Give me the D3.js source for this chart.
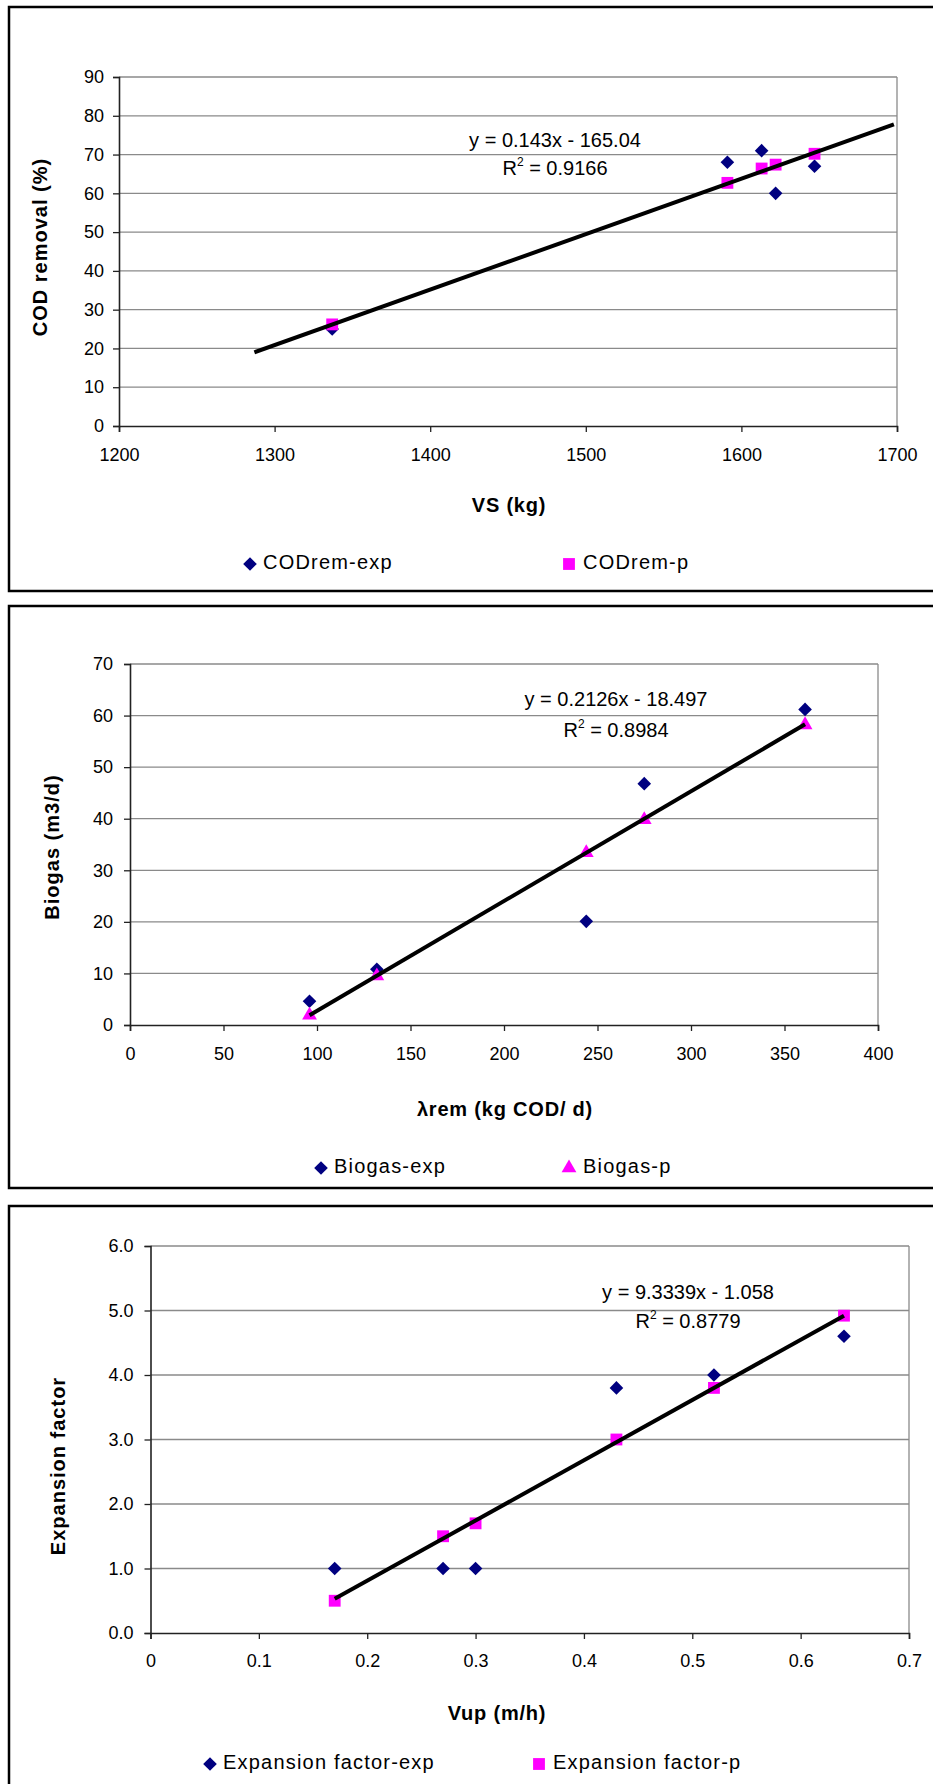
<!DOCTYPE html>
<html>
<head>
<meta charset="utf-8">
<script src="https://cdn.jsdelivr.net/npm/d3@7"></script>
<style>
    body { margin: 0; background: #fff; }
    svg text { font-family: "Liberation Sans", Arial, sans-serif; fill: #000; }
</style>
</head>
<body>
<svg id="d3-canvas" width="933" height="1784"></svg>
<script>
// Chart 1: COD removal vs VS
const codVS = [1337, 1591, 1613, 1622, 1647];
const codExp = [25, 68, 71, 60, 67];
const codP = [26.2, 62.7, 66.4, 67.4, 70.2];
const codTrendX = [1287, 1698];
const codTrendY = [19.0, 77.8];
const codXTicks = [1200, 1300, 1400, 1500, 1600, 1700];
const codYTicks = [0, 10, 20, 30, 40, 50, 60, 70, 80, 90];

// Chart 2: biogas vs lambda rem
const lambdaRem = [96, 132, 244, 275, 361];
const biogasExp = [4.6, 10.8, 20.1, 46.8, 61.2];
const biogasP = [1.9, 9.5, 33.4, 39.8, 58.2];
const biogasTrendX = [96, 361];
const biogasTrendY = [1.9, 58.3];
const biogasXTicks = [0, 50, 100, 150, 200, 250, 300, 350, 400];
const biogasYTicks = [0, 10, 20, 30, 40, 50, 60, 70];

// Chart 3: expansion factor vs Vup
const vup = [0.17, 0.27, 0.30, 0.43, 0.52, 0.64];
const expExp = [1.0, 1.0, 1.0, 3.8, 4.0, 4.6];
const expP = [0.5, 1.5, 1.7, 3.0, 3.8, 4.92];
const expTrendX = [0.17, 0.64];
const expTrendY = [0.53, 4.92];
const expXTicks = [0, 0.1, 0.2, 0.3, 0.4, 0.5, 0.6, 0.7];
const expXLabels = ["0", "0.1", "0.2", "0.3", "0.4", "0.5", "0.6", "0.7"];
const expYTicks = [0, 1, 2, 3, 4, 5, 6];
const expYLabels = ["0.0", "1.0", "2.0", "3.0", "4.0", "5.0", "6.0"];

const NAVY = "#000080";
const MAGENTA = "#ff00ff";

const svg = d3.select("#d3-canvas");
svg.append("rect").attr("width", 933).attr("height", 1784).attr("fill", "#fff");

const markerPath = (shape) => {
    if (shape == "diamond") return d3.symbol(d3.symbolDiamond2, 118)();
    if (shape == "triangle") return d3.symbol(d3.symbolTriangle, 95)();
    return d3.symbol(d3.symbolSquare, 140)();
}

const drawChart = (c) => {
    // outer frame (runs off the right edge in the source)
    svg.append("rect")
        .attr("x", 9)
        .attr("y", c.frame[0])
        .attr("width", 990)
        .attr("height", c.frame[1] - c.frame[0])
        .attr("fill", "none")
        .attr("stroke", "#000")
        .attr("stroke-width", 2.5);

    const x = d3.scaleLinear().domain(c.xDomain).range([c.left, c.right]);
    const y = d3.scaleLinear().domain(c.yDomain).range([c.bottom, c.top]);
    const g = svg.append("g");

    // gridlines
    g.selectAll(".grid")
        .data(c.yTicks.slice(1))
        .join("line")
        .attr("x1", c.left)
        .attr("x2", c.right)
        .attr("y1", d => y(d))
        .attr("y2", d => y(d))
        .attr("stroke", "#8a8a8a")
        .attr("stroke-width", 1.3);
    g.append("line")
        .attr("x1", c.right).attr("x2", c.right)
        .attr("y1", c.top).attr("y2", c.bottom)
        .attr("stroke", "#8a8a8a")
        .attr("stroke-width", 1.3);

    const xAxis = g.append("g")
        .attr("transform", `translate(0,${c.bottom})`)
        .call(d3.axisBottom(x).tickValues(c.xTicks).tickSize(6)
            .tickFormat((d, i) => c.xLabels ? c.xLabels[i] : d));
    xAxis.selectAll("text")
        .attr("y", c.xLabelOffset)
        .attr("dy", "0.35em")
        .attr("font-size", 18);

    const yAxis = g.append("g")
        .attr("transform", `translate(${c.left},0)`)
        .call(d3.axisLeft(y).tickValues(c.yTicks).tickSize(6).tickPadding(c.yPad)
            .tickFormat((d, i) => c.yLabels ? c.yLabels[i] : d));
    yAxis.selectAll("text").attr("font-size", 18);

    [xAxis, yAxis].forEach(a => {
        a.attr("font-family", null);
        a.select(".domain").attr("stroke", "#222").attr("stroke-width", 1.6);
        a.selectAll(".tick line").attr("stroke", "#222").attr("stroke-width", 1.3);
    });

    // series markers
    g.selectAll(".exp")
        .data(c.xs.map((d, i) => [d, c.exp[i]]))
        .join("path")
        .attr("d", markerPath("diamond"))
        .attr("transform", d => `translate(${x(d[0])},${y(d[1])})`)
        .attr("fill", NAVY);
    g.selectAll(".pred")
        .data(c.xs.map((d, i) => [d, c.pred[i]]))
        .join("path")
        .attr("d", markerPath(c.predShape))
        .attr("transform", d => `translate(${x(d[0])},${y(d[1])})`)
        .attr("fill", MAGENTA);

    // trendline
    g.append("path")
        .datum(c.trendX.map((d, i) => [d, c.trendY[i]]))
        .attr("d", d3.line().x(d => x(d[0])).y(d => y(d[1])))
        .attr("stroke", "#000")
        .attr("stroke-width", 4)
        .attr("fill", "none");

    // equation
    g.append("text")
        .attr("x", c.eq[0])
        .attr("y", c.eq[1])
        .attr("text-anchor", "middle")
        .attr("dominant-baseline", "middle")
        .attr("font-size", 20)
        .text(c.eqText);
    const r2 = g.append("text")
        .attr("x", c.eq[0])
        .attr("y", c.eq[2])
        .attr("text-anchor", "middle")
        .attr("dominant-baseline", "middle")
        .attr("font-size", 20);
    r2.append("tspan").text("R");
    r2.append("tspan").attr("font-size", 12).attr("dy", -7).text("2");
    r2.append("tspan").attr("dy", 7).text(" = " + c.r2);

    // axis titles
    g.append("text")
        .attr("x", c.xTitle[0])
        .attr("y", c.xTitle[1])
        .attr("text-anchor", "middle")
        .attr("dominant-baseline", "middle")
        .attr("font-size", 20)
        .attr("font-weight", "bold")
        .attr("letter-spacing", 0.8)
        .text(c.xTitleText);
    g.append("text")
        .attr("transform", `translate(${c.yTitle[0]},${c.yTitle[1]}) rotate(-90)`)
        .attr("text-anchor", "middle")
        .attr("dominant-baseline", "middle")
        .attr("font-size", 20)
        .attr("font-weight", "bold")
        .attr("letter-spacing", 1)
        .text(c.yTitleText);

    // legend
    const lg = g.append("g").attr("transform", `translate(0,${c.legendY})`);
    lg.append("path")
        .attr("d", markerPath("diamond"))
        .attr("transform", `translate(${c.legendX[0]},0)`)
        .attr("fill", NAVY);
    lg.append("text")
        .attr("x", c.legendX[0] + 13)
        .attr("dominant-baseline", "middle")
        .attr("font-size", 20)
        .attr("letter-spacing", 1.2)
        .text(c.names[0]);
    lg.append("path")
        .attr("d", markerPath(c.predShape))
        .attr("transform", `translate(${c.legendX[1]},0)`)
        .attr("fill", MAGENTA);
    lg.append("text")
        .attr("x", c.legendX[1] + 14)
        .attr("dominant-baseline", "middle")
        .attr("font-size", 20)
        .attr("letter-spacing", 1.2)
        .text(c.names[1]);
}

drawChart({
    frame: [7, 591],
    left: 119, right: 897, top: 77, bottom: 426, yPad: 9, xLabelOffset: 29,
    xDomain: [1200, 1700], yDomain: [0, 90],
    xTicks: codXTicks, yTicks: codYTicks,
    xs: codVS, exp: codExp, pred: codP, predShape: "square",
    trendX: codTrendX, trendY: codTrendY,
    eq: [555, 142, 170], eqText: "y = 0.143x - 165.04", r2: "0.9166",
    xTitle: [509, 507], xTitleText: "VS (kg)",
    yTitle: [42, 247], yTitleText: "COD removal (%)",
    legendY: 564, legendX: [250, 569], names: ["CODrem-exp", "CODrem-p"]
});

drawChart({
    frame: [606, 1188],
    left: 130, right: 878, top: 664, bottom: 1025, yPad: 11, xLabelOffset: 29,
    xDomain: [0, 400], yDomain: [0, 70],
    xTicks: biogasXTicks, yTicks: biogasYTicks,
    xs: lambdaRem, exp: biogasExp, pred: biogasP, predShape: "triangle",
    trendX: biogasTrendX, trendY: biogasTrendY,
    eq: [616, 701, 732], eqText: "y = 0.2126x - 18.497", r2: "0.8984",
    xTitle: [505, 1111], xTitleText: "λrem (kg COD/ d)",
    yTitle: [54, 847], yTitleText: "Biogas (m3/d)",
    legendY: 1168, legendX: [321, 569], names: ["Biogas-exp", "Biogas-p"]
});

drawChart({
    frame: [1206, 1830],
    left: 150.5, right: 909, top: 1246, bottom: 1633, yPad: 11, xLabelOffset: 28,
    xDomain: [0, 0.7], yDomain: [0, 6],
    xTicks: expXTicks, xLabels: expXLabels, yTicks: expYTicks, yLabels: expYLabels,
    xs: vup, exp: expExp, pred: expP, predShape: "square",
    trendX: expTrendX, trendY: expTrendY,
    eq: [688, 1294, 1323], eqText: "y = 9.3339x - 1.058", r2: "0.8779",
    xTitle: [497, 1715], xTitleText: "Vup (m/h)",
    yTitle: [60, 1466], yTitleText: "Expansion factor",
    legendY: 1764, legendX: [210, 539], names: ["Expansion factor-exp", "Expansion factor-p"]
});
</script>
</body>
</html>
